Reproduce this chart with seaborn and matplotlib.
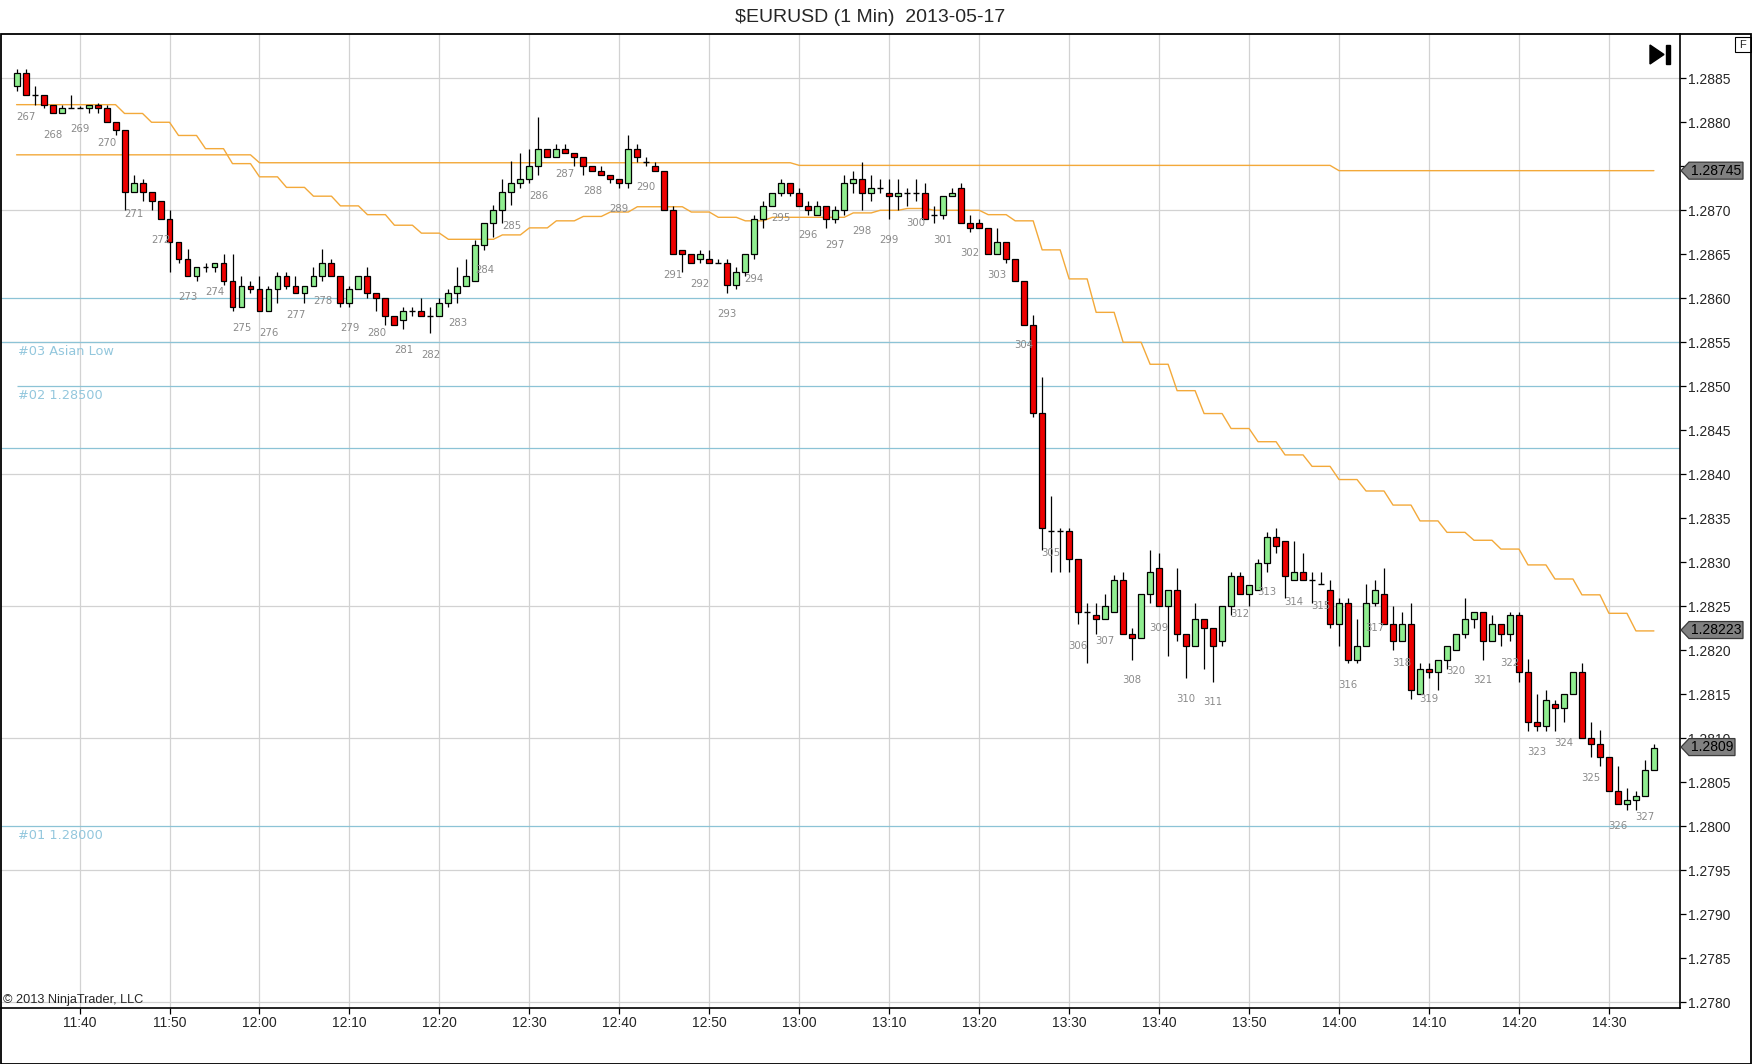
import numpy as np
import pandas as pd
import matplotlib
matplotlib.use('Agg')
import matplotlib.pyplot as plt
import matplotlib.dates as mdates
from matplotlib.patches import Rectangle, Polygon
import seaborn as sns

# 1-minute bars, first bar at 11:33
first_bar = '2013-05-17 11:33'

opens = [
    1.28841, 1.28856, 1.28831, 1.28831, 1.28820, 1.28810, 1.28816, 1.28816, 1.28816, 1.28820,
    1.28816, 1.28800, 1.28791, 1.28721, 1.28731, 1.28721, 1.28710, 1.28690, 1.28664, 1.28645,
    1.28625, 1.28635, 1.28635, 1.28640, 1.28620, 1.28590, 1.28614, 1.28610, 1.28585, 1.28610,
    1.28625, 1.28614, 1.28606, 1.28614, 1.28625, 1.28640, 1.28625, 1.28595, 1.28610, 1.28625,
    1.28606, 1.28600, 1.28580, 1.28575, 1.28585, 1.28585, 1.28580, 1.28580, 1.28595, 1.28606,
    1.28614, 1.28620, 1.28661, 1.28685, 1.28700, 1.28721, 1.28731, 1.28736, 1.28750, 1.28770,
    1.28760, 1.28770, 1.28765, 1.28760, 1.28750, 1.28745, 1.28740, 1.28736, 1.28731, 1.28770,
    1.28755, 1.28750, 1.28745, 1.28700, 1.28655, 1.28650, 1.28645, 1.28645, 1.28640, 1.28640,
    1.28615, 1.28630, 1.28650, 1.28690, 1.28705, 1.28720, 1.28731, 1.28720, 1.28705, 1.28695,
    1.28705, 1.28690, 1.28700, 1.28731, 1.28736, 1.28720, 1.28725, 1.28720, 1.28716, 1.28720,
    1.28720, 1.28720, 1.28695, 1.28695, 1.28716, 1.28725, 1.28685, 1.28685, 1.28680, 1.28650,
    1.28664, 1.28645, 1.28620, 1.28570, 1.28470, 1.28335, 1.28335, 1.28335, 1.28304, 1.28244,
    1.28240, 1.28235, 1.28244, 1.28280, 1.28219, 1.28214, 1.28264, 1.28294, 1.28250, 1.28269,
    1.28219, 1.28205, 1.28235, 1.28225, 1.28210, 1.28250, 1.28284, 1.28264, 1.28269, 1.28299,
    1.28329, 1.28324, 1.28280, 1.28289, 1.28280, 1.28275, 1.28269, 1.28230, 1.28254, 1.28189,
    1.28205, 1.28254, 1.28264, 1.28230, 1.28210, 1.28230, 1.28150, 1.28179, 1.28175, 1.28189,
    1.28200, 1.28219, 1.28235, 1.28244, 1.28210, 1.28230, 1.28219, 1.28240, 1.28175, 1.28119,
    1.28114, 1.28139, 1.28134, 1.28150, 1.28175, 1.28100, 1.28094, 1.28079, 1.28040, 1.28025,
    1.28030, 1.28034, 1.28064,
]
highs = [
    1.28860, 1.28860, 1.28841, 1.28831, 1.28820, 1.28820, 1.28831, 1.28818, 1.28820, 1.28822,
    1.28820, 1.28800, 1.28791, 1.28740, 1.28736, 1.28721, 1.28710, 1.28700, 1.28664, 1.28656,
    1.28635, 1.28640, 1.28640, 1.28650, 1.28650, 1.28625, 1.28620, 1.28625, 1.28614, 1.28630,
    1.28630, 1.28625, 1.28614, 1.28635, 1.28656, 1.28645, 1.28625, 1.28614, 1.28625, 1.28635,
    1.28606, 1.28600, 1.28580, 1.28590, 1.28590, 1.28600, 1.28590, 1.28600, 1.28610, 1.28635,
    1.28645, 1.28666, 1.28685, 1.28706, 1.28736, 1.28756, 1.28765, 1.28770, 1.28806, 1.28770,
    1.28775, 1.28775, 1.28765, 1.28760, 1.28750, 1.28750, 1.28740, 1.28736, 1.28786, 1.28775,
    1.28760, 1.28755, 1.28745, 1.28705, 1.28655, 1.28650, 1.28655, 1.28655, 1.28645, 1.28645,
    1.28635, 1.28650, 1.28695, 1.28710, 1.28720, 1.28736, 1.28731, 1.28725, 1.28710, 1.28710,
    1.28705, 1.28705, 1.28740, 1.28745, 1.28755, 1.28740, 1.28736, 1.28736, 1.28736, 1.28725,
    1.28736, 1.28731, 1.28705, 1.28716, 1.28725, 1.28731, 1.28695, 1.28690, 1.28680, 1.28680,
    1.28664, 1.28645, 1.28620, 1.28581, 1.28510, 1.28375, 1.28339, 1.28339, 1.28304, 1.28254,
    1.28254, 1.28264, 1.28285, 1.28289, 1.28225, 1.28264, 1.28314, 1.28310, 1.28269, 1.28294,
    1.28219, 1.28254, 1.28235, 1.28225, 1.28250, 1.28289, 1.28289, 1.28274, 1.28304, 1.28334,
    1.28339, 1.28324, 1.28324, 1.28310, 1.28289, 1.28289, 1.28280, 1.28259, 1.28259, 1.28235,
    1.28275, 1.28280, 1.28294, 1.28250, 1.28244, 1.28254, 1.28185, 1.28185, 1.28189, 1.28205,
    1.28219, 1.28259, 1.28244, 1.28244, 1.28240, 1.28230, 1.28244, 1.28244, 1.28190, 1.28150,
    1.28155, 1.28144, 1.28150, 1.28175, 1.28185, 1.28119, 1.28109, 1.28079, 1.28069, 1.28044,
    1.28040, 1.28075, 1.28094,
]
lows = [
    1.28835, 1.28831, 1.28820, 1.28816, 1.28810, 1.28810, 1.28816, 1.28816, 1.28810, 1.28810,
    1.28800, 1.28785, 1.28700, 1.28721, 1.28710, 1.28700, 1.28690, 1.28630, 1.28640, 1.28625,
    1.28620, 1.28630, 1.28630, 1.28615, 1.28585, 1.28590, 1.28606, 1.28585, 1.28585, 1.28595,
    1.28610, 1.28606, 1.28595, 1.28614, 1.28620, 1.28625, 1.28590, 1.28590, 1.28610, 1.28600,
    1.28585, 1.28570, 1.28570, 1.28565, 1.28580, 1.28580, 1.28560, 1.28580, 1.28590, 1.28595,
    1.28614, 1.28620, 1.28655, 1.28670, 1.28685, 1.28706, 1.28725, 1.28731, 1.28740, 1.28760,
    1.28760, 1.28765, 1.28750, 1.28740, 1.28745, 1.28740, 1.28731, 1.28725, 1.28725, 1.28755,
    1.28750, 1.28745, 1.28700, 1.28650, 1.28630, 1.28640, 1.28640, 1.28640, 1.28640, 1.28606,
    1.28610, 1.28625, 1.28645, 1.28680, 1.28705, 1.28716, 1.28716, 1.28705, 1.28695, 1.28695,
    1.28680, 1.28685, 1.28695, 1.28720, 1.28700, 1.28710, 1.28720, 1.28690, 1.28700, 1.28705,
    1.28710, 1.28690, 1.28685, 1.28690, 1.28716, 1.28685, 1.28675, 1.28680, 1.28650, 1.28650,
    1.28640, 1.28620, 1.28570, 1.28465, 1.28314, 1.28289, 1.28289, 1.28289, 1.28230, 1.28185,
    1.28219, 1.28235, 1.28244, 1.28219, 1.28189, 1.28214, 1.28254, 1.28250, 1.28193, 1.28210,
    1.28169, 1.28205, 1.28179, 1.28164, 1.28205, 1.28240, 1.28264, 1.28250, 1.28269, 1.28289,
    1.28310, 1.28259, 1.28280, 1.28280, 1.28254, 1.28275, 1.28225, 1.28205, 1.28185, 1.28185,
    1.28205, 1.28250, 1.28230, 1.28200, 1.28210, 1.28145, 1.28150, 1.28169, 1.28155, 1.28179,
    1.28200, 1.28214, 1.28225, 1.28189, 1.28210, 1.28205, 1.28210, 1.28164, 1.28108, 1.28108,
    1.28108, 1.28108, 1.28119, 1.28150, 1.28100, 1.28079, 1.28069, 1.28040, 1.28025, 1.28019,
    1.28019, 1.28034, 1.28064,
]
closes = [
    1.28856, 1.28831, 1.28831, 1.28820, 1.28810, 1.28816, 1.28816, 1.28816, 1.28820, 1.28816,
    1.28800, 1.28791, 1.28721, 1.28731, 1.28721, 1.28710, 1.28690, 1.28664, 1.28645, 1.28625,
    1.28635, 1.28635, 1.28640, 1.28620, 1.28590, 1.28614, 1.28610, 1.28585, 1.28610, 1.28625,
    1.28614, 1.28606, 1.28614, 1.28625, 1.28640, 1.28625, 1.28595, 1.28610, 1.28625, 1.28606,
    1.28600, 1.28580, 1.28570, 1.28585, 1.28585, 1.28580, 1.28580, 1.28595, 1.28606, 1.28614,
    1.28625, 1.28661, 1.28685, 1.28700, 1.28721, 1.28731, 1.28736, 1.28750, 1.28770, 1.28760,
    1.28770, 1.28765, 1.28760, 1.28750, 1.28745, 1.28740, 1.28736, 1.28731, 1.28770, 1.28760,
    1.28755, 1.28745, 1.28700, 1.28650, 1.28650, 1.28640, 1.28650, 1.28640, 1.28640, 1.28615,
    1.28630, 1.28650, 1.28690, 1.28705, 1.28720, 1.28731, 1.28720, 1.28705, 1.28700, 1.28705,
    1.28690, 1.28700, 1.28731, 1.28736, 1.28720, 1.28725, 1.28725, 1.28716, 1.28720, 1.28720,
    1.28720, 1.28690, 1.28695, 1.28716, 1.28720, 1.28685, 1.28680, 1.28680, 1.28650, 1.28664,
    1.28645, 1.28620, 1.28570, 1.28470, 1.28339, 1.28335, 1.28335, 1.28304, 1.28244, 1.28244,
    1.28235, 1.28250, 1.28280, 1.28219, 1.28214, 1.28264, 1.28289, 1.28250, 1.28269, 1.28219,
    1.28205, 1.28235, 1.28225, 1.28205, 1.28250, 1.28284, 1.28264, 1.28274, 1.28299, 1.28329,
    1.28319, 1.28284, 1.28289, 1.28280, 1.28280, 1.28275, 1.28230, 1.28254, 1.28189, 1.28205,
    1.28254, 1.28269, 1.28230, 1.28210, 1.28230, 1.28155, 1.28179, 1.28175, 1.28189, 1.28205,
    1.28219, 1.28235, 1.28244, 1.28210, 1.28230, 1.28219, 1.28240, 1.28175, 1.28119, 1.28114,
    1.28144, 1.28134, 1.28150, 1.28175, 1.28100, 1.28094, 1.28079, 1.28040, 1.28025, 1.28030,
    1.28034, 1.28064, 1.28089,
]

# orange indicator lines, one value per 3-bar block
fast_line = [
    1.28820, 1.28820, 1.28820, 1.28820, 1.28810, 1.28800, 1.28785, 1.28770, 1.28753, 1.28738,
    1.28726, 1.28716, 1.28705, 1.28695, 1.28683, 1.28674, 1.28667, 1.28667, 1.28672, 1.28680,
    1.28688, 1.28693, 1.28698, 1.28704, 1.28704, 1.28698, 1.28692, 1.28688, 1.28692, 1.28692,
    1.28692, 1.28697, 1.28700, 1.28702, 1.28700, 1.28700, 1.28695, 1.28688, 1.28655, 1.28622,
    1.28584, 1.28550, 1.28525, 1.28495, 1.28469, 1.28452, 1.28437, 1.28422, 1.28409, 1.28394,
    1.28381, 1.28365, 1.28347, 1.28334, 1.28325, 1.28315, 1.28297, 1.28281, 1.28263, 1.28242,
    1.28222,
]
slow_line = [
    1.28763, 1.28763, 1.28763, 1.28763, 1.28763, 1.28763, 1.28763, 1.28763, 1.28763, 1.28754,
    1.28754, 1.28754, 1.28754, 1.28754, 1.28754, 1.28754, 1.28754, 1.28754, 1.28754, 1.28754,
    1.28754, 1.28754, 1.28754, 1.28754, 1.28754, 1.28754, 1.28754, 1.28754, 1.28754, 1.28751,
    1.28751, 1.28751, 1.28751, 1.28751, 1.28751, 1.28751, 1.28751, 1.28751, 1.28751, 1.28751,
    1.28751, 1.28751, 1.28751, 1.28751, 1.28751, 1.28751, 1.28751, 1.28751, 1.28751, 1.28745,
    1.28745, 1.28745, 1.28745, 1.28745, 1.28745, 1.28745, 1.28745, 1.28745, 1.28745, 1.28745,
    1.28745,
]

# block numbers (first = 267) and the price where each number is printed
first_block_no = 267
block_label_prices = [
    1.28806, 1.28786, 1.28792, 1.28776, 1.28696, 1.28666, 1.28601, 1.28607, 1.28566, 1.28561,
    1.28581, 1.28597, 1.28566, 1.28561, 1.28541, 1.28536, 1.28572, 1.28632, 1.28682, 1.28716,
    1.28741, 1.28722, 1.28701, 1.28726, 1.28626, 1.28616, 1.28582, 1.28622, 1.28691, 1.28672,
    1.28661, 1.28676, 1.28666, 1.28686, 1.28666, 1.28651, 1.28626, 1.28547, 1.28311, 1.28205,
    1.28211, 1.28166, 1.28225, 1.28145, 1.28141, 1.28241, 1.28266, 1.28255, 1.28250, 1.28161,
    1.28225, 1.28186, 1.28145, 1.28176, 1.28166, 1.28186, 1.28084, 1.28095, 1.28055, 1.28000,
    1.28010,
]

# horizontal levels
level_prices = [1.2860, 1.2855, 1.2850, 1.2843, 1.2800]
level_texts = ['', '#03 Asian Low', '#02 1.28500', '', '#01 1.28000']

tag_prices = [1.28745, 1.28223, 1.2809]
tag_texts = ['1.28745', '1.28223', '1.2809']

W, H = 1752, 1064
sns.set_style('white')
plt.rcParams['font.family'] = ['Liberation Sans', 'DejaVu Sans']

fig = plt.figure(figsize=(W / 100, H / 100), dpi=100)
fig.patch.set_facecolor('white')
ax = fig.add_axes([1 / W, 1 - 1008 / H, 1679 / W, (1008 - 34) / H])

times = pd.date_range(first_bar, periods=len(opens), freq='min')
x = mdates.date2num(times)
o = np.array(opens)
h = np.array(highs)
l = np.array(lows)
c = np.array(closes)

blue = '#8CC3D6'
grey_grid = '#D2D2D2'

# grid every 0.0015
y_grid = np.arange(1.2780, 1.28851, 0.0015)
for yv in y_grid:
    ax.axhline(yv, color=grey_grid, lw=0.9, zorder=0)

x0 = mdates.date2num(pd.Timestamp('2013-05-17 11:31:16'))
x1 = mdates.date2num(pd.Timestamp('2013-05-17 14:37:54'))

# levels
for p, txt in zip(level_prices, level_texts):
    start = x[0] if txt.startswith('#02') else x0
    ax.hlines(p, start, x1, color=blue, lw=0.9, zorder=1)
    if txt:
        ax.annotate(txt, xy=(17 / 1679, p), xycoords=('axes fraction', 'data'),
                    xytext=(0, -2), textcoords='offset points', va='top', ha='left',
                    fontsize=9.3, color='#93C7DD', family='DejaVu Sans')

# orange lines
lines_df = pd.DataFrame({
    'time': np.concatenate([times, times]),
    'value': np.concatenate([np.repeat(fast_line, 3), np.repeat(slow_line, 3)]),
    'line': ['fast'] * len(times) + ['slow'] * len(times),
})
sns.lineplot(data=lines_df, x='time', y='value', hue='line', units='line',
             palette={'fast': '#F3A93A', 'slow': '#F3A93A'}, estimator=None,
             lw=1.0, legend=False, ax=ax, zorder=2)

# candles
bw = 0.66 / 1440
ax.vlines(x, l, h, color='black', lw=0.9, zorder=3)
up = c > o
dn = c < o
flat = c == o
ax.bar(x[up], (c - o)[up], bottom=o[up], width=bw, color='#90EE90',
       edgecolor='black', linewidth=0.9, zorder=4)
ax.bar(x[dn], (c - o)[dn], bottom=o[dn], width=bw, color='#EE0000',
       edgecolor='black', linewidth=0.9, zorder=4)
ax.hlines(c[flat], x[flat] - bw / 2, x[flat] + bw / 2, color='black', lw=1.0, zorder=4)

# block numbers under the middle bar of each 3-bar block
for k, p in enumerate(block_label_prices):
    ax.text(x[1 + 3 * k], p, str(first_block_no + k), ha='center', va='center',
            fontsize=7.3, color='#8A8A8A', family='DejaVu Sans', zorder=5)

ax.set_xlim(x0, x1)
ax.set_ylim(1.277935, 1.289003)


def price_fmt(v, pos):
    # the 1.2875 label sits under the 1.28745 price tag
    if abs(v - 1.2875) < 1e-6:
        return ''
    return '%.4f' % v


ax.yaxis.tick_right()
ax.set_yticks(np.arange(1.2780, 1.28851, 0.0005))
ax.yaxis.set_major_formatter(matplotlib.ticker.FuncFormatter(price_fmt))
ax.xaxis.set_major_locator(mdates.MinuteLocator(byminute=range(0, 60, 10)))
ax.xaxis.set_major_formatter(mdates.DateFormatter('%H:%M'))
ax.grid(axis='x', color=grey_grid, lw=0.9)
ax.grid(axis='y', visible=False)
ax.tick_params(axis='both', direction='out', length=4, width=0.9, color='black',
               labelsize=10, pad=2)
ax.tick_params(axis='y', right=True, left=False)
ax.tick_params(axis='x', bottom=True)
ax.set_xlabel('')
ax.set_ylabel('')
for side in ['top', 'left']:
    ax.spines[side].set_visible(False)
for side in ['right', 'bottom']:
    ax.spines[side].set_visible(True)
    ax.spines[side].set_color('black')
    ax.spines[side].set_linewidth(1.2)
ax.set_facecolor('white')

# panel frame and title
fig.add_artist(Rectangle((0.5 / W, 0.5 / H), (W - 1.5) / W, (H - 34 - 0.5) / H,
                         transform=fig.transFigure, fill=False, ec='black', lw=1.3))
fig.text(870 / W, 1 - 18 / H, r'\$EURUSD (1 Min)  2013-05-17', ha='center', va='center',
         fontsize=14)
fig.text(3 / W, 1 - 1000 / H, '© 2013 NinjaTrader, LLC', ha='left', va='center',
         fontsize=9.2)


def px(xp, yp):
    return (xp / W, 1 - yp / H)


# go-to-end icon and F box
fig.add_artist(Polygon([px(1650, 45), px(1650, 64), px(1664, 54.5)], closed=True,
                       transform=fig.transFigure, color='black'))
fig.add_artist(Rectangle(px(1666, 64), 4 / W, 19 / H, transform=fig.transFigure,
                         color='black'))
fig.add_artist(Rectangle(px(1735, 52), 16 / W, 15 / H, transform=fig.transFigure,
                         fill=False, ec='black', lw=0.8))
fig.text(1743 / W, 1 - 44.5 / H, 'F', ha='center', va='center', fontsize=8)

# price tags on the right axis
fig.canvas.draw()
for p, txt in zip(tag_prices, tag_texts):
    yd = ax.transData.transform((x0, p))[1]
    yp = H - yd
    tw = 53 if len(txt) > 6 else 45
    pts = [px(1681, yp), px(1689, yp - 8.5), px(1690 + tw, yp - 8.5),
           px(1690 + tw, yp + 8.5), px(1689, yp + 8.5)]
    fig.add_artist(Polygon(pts, closed=True, transform=fig.transFigure,
                           fc='#808080', ec='#3A3A3A', lw=0.9))
    fig.text((1690 + tw / 2) / W, 1 - yp / H, txt, ha='center', va='center',
             fontsize=10, color='black')

fig.savefig('out.png', dpi=100)
